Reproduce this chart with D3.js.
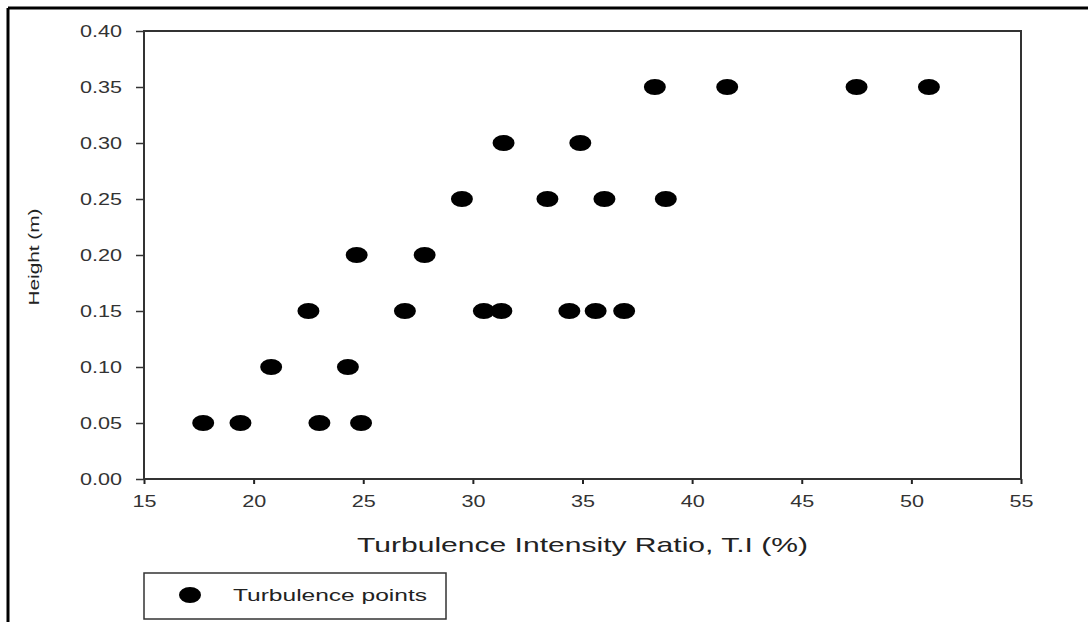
<!DOCTYPE html>
<html>
<head>
<meta charset="utf-8">
<script src="https://cdn.jsdelivr.net/npm/d3@7"></script>
<style>
  body { margin:0; background:#fff; }
  svg { display:block; font-family:"Liberation Sans", Arial, sans-serif; }
</style>
</head>
<body>
<div id="chart"></div>
<script>
// turbulence intensity (%) and height (m) of each point
var tiValues = [17.7, 19.4, 23.0, 24.9,
                20.8, 24.3,
                22.5, 26.9, 30.5, 31.3, 34.4, 35.6, 36.9,
                24.7, 27.8,
                29.5, 33.4, 36.0, 38.8,
                31.4, 34.9,
                38.3, 41.6, 47.5, 50.8]
var heightValues = [0.05, 0.05, 0.05, 0.05,
                    0.10, 0.10,
                    0.15, 0.15, 0.15, 0.15, 0.15, 0.15, 0.15,
                    0.20, 0.20,
                    0.25, 0.25, 0.25, 0.25,
                    0.30, 0.30,
                    0.35, 0.35, 0.35, 0.35]
var xTicks = [15, 20, 25, 30, 35, 40, 45, 50, 55]
var yTicks = [0, 0.05, 0.10, 0.15, 0.20, 0.25, 0.30, 0.35, 0.40]
var xTitle = "Turbulence Intensity Ratio, T.I (%)"
var yTitle = "Height (m)"
var legendLabel = "Turbulence points"

var W = 1088, H = 622
var plot = {left:144, top:31, right:1021, bottom:479}

var svg = d3.select("#chart").append("svg")
    .attr("width", W)
    .attr("height", H)

// the original font is drawn wider than normal, so stretch the text
var widen = function(sel, k){
    sel.each(function(){
        var w = this.getComputedTextLength()
        d3.select(this).attr("textLength", w*k).attr("lengthAdjust","spacingAndGlyphs")
    })
}

// outer frame (top and left only)
svg.append("line").attr("x1",8).attr("y1",8).attr("x2",W).attr("y2",8)
    .attr("stroke","#000").attr("stroke-width",3)
svg.append("line").attr("x1",8).attr("y1",8).attr("x2",8).attr("y2",H)
    .attr("stroke","#000").attr("stroke-width",3)

var x = d3.scaleLinear().domain([15,55]).range([plot.left, plot.right])
var y = d3.scaleLinear().domain([0,0.40]).range([plot.bottom, plot.top])

// x axis
var xAxis = svg.append("g")
    .attr("transform","translate(0,"+plot.bottom+")")
    .call(d3.axisBottom(x).tickValues(xTicks).tickSize(5).tickPadding(12).tickFormat(d3.format("d")))
xAxis.select(".domain").remove()
xAxis.selectAll("line").attr("stroke","#222").attr("stroke-width",2)
xAxis.selectAll("text").attr("font-size",16).attr("fill","#333").call(widen,1.35)

// y axis
var yAxis = svg.append("g")
    .attr("transform","translate("+plot.left+",0)")
    .call(d3.axisLeft(y).tickValues(yTicks).tickSize(8).tickPadding(14).tickFormat(d3.format(".2f")))
yAxis.select(".domain").remove()
yAxis.selectAll("line").attr("stroke","#333").attr("stroke-width",1.5)
yAxis.selectAll("text").attr("font-size",16).attr("fill","#333").call(widen,1.35)

// plot box
svg.append("rect")
    .attr("x",plot.left).attr("y",plot.top)
    .attr("width",plot.right-plot.left).attr("height",plot.bottom-plot.top)
    .attr("fill","none").attr("stroke","#333").attr("stroke-width",2)

// points
svg.append("g").selectAll("ellipse")
    .data(tiValues)
    .enter()
    .append("ellipse")
    .attr("cx",function(d){return x(d)})
    .attr("cy",function(d,i){return y(heightValues[i])})
    .attr("rx",11)
    .attr("ry",8)
    .attr("fill","#000")

// axis titles
svg.append("text")
    .attr("x",(357+808)/2).attr("y",552)
    .attr("text-anchor","middle")
    .attr("font-size",21)
    .attr("fill","#222")
    .attr("textLength",451)
    .attr("lengthAdjust","spacingAndGlyphs")
    .text(xTitle)

svg.append("text")
    .attr("transform","translate(39,257) rotate(-90)")
    .attr("text-anchor","middle")
    .attr("font-size",15)
    .attr("fill","#222")
    .attr("textLength",97)
    .attr("lengthAdjust","spacingAndGlyphs")
    .text(yTitle)

// legend
var leg = svg.append("g")
leg.append("rect")
    .attr("x",144).attr("y",573).attr("width",302).attr("height",46)
    .attr("fill","#fff").attr("stroke","#333").attr("stroke-width",1.5)
leg.append("ellipse")
    .attr("cx",190).attr("cy",595).attr("rx",11).attr("ry",8).attr("fill","#000")
leg.append("text")
    .attr("x",233).attr("y",601)
    .attr("font-size",16)
    .attr("fill","#222")
    .attr("textLength",194)
    .attr("lengthAdjust","spacingAndGlyphs")
    .text(legendLabel)
</script>
</body>
</html>
